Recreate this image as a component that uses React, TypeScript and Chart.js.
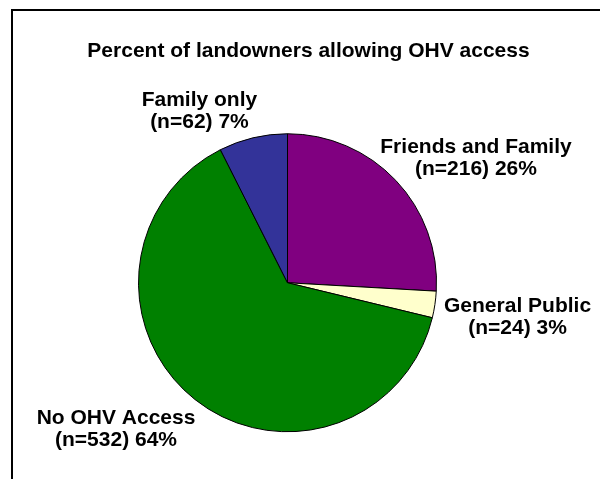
import React, { useEffect, useRef } from "react";
import { Chart, registerables } from "chart.js";

Chart.register(...registerables);

const TITLE = "Percent of landowners allowing OHV access";
const categories = ["Friends and Family", "General Public", "No OHV Access", "Family only"];
const counts = [216, 24, 532, 62];
const sliceColors = ["#800080", "#FFFFCC", "#008000", "#333399"];

const FONT = 'bold 21px "Liberation Sans", Arial, sans-serif';

const labelPlugin = {
  id: "sliceLabels",
  afterDraw(chart: any, _args: any, opts: any) {
    const ctx = chart.ctx;
    const meta = chart.getDatasetMeta(0);
    const data = chart.data.datasets[0].data as number[];
    const total = data.reduce((a, b) => a + b, 0);
    ctx.save();
    ctx.font = FONT;
    ctx.fillStyle = "#000";
    ctx.textAlign = "center";
    ctx.textBaseline = "alphabetic";
    meta.data.forEach((arc: any, i: number) => {
      const { x, y, outerRadius } = arc.getProps(["x", "y", "outerRadius"], true);
      const [dx, dy] = opts.offsets[i];
      const lx = x + dx * outerRadius;
      const ly = y + dy * outerRadius;
      ctx.fillText(String(chart.data.labels[i]), lx, ly);
      ctx.fillText(`(n=${data[i]}) ${Math.round((data[i] / total) * 100)}%`, lx, ly + opts.lineHeight);
    });
    ctx.fillText(opts.title, opts.titleX, opts.titleY);
    ctx.restore();
  },
};

export default function App() {
  const ref = useRef<HTMLCanvasElement | null>(null);

  useEffect(() => {
    if (!ref.current) return;
    const chart = new Chart(ref.current, {
      type: "pie",
      data: {
        labels: categories,
        datasets: [
          {
            data: counts,
            backgroundColor: sliceColors,
            borderColor: "#000000",
            borderWidth: 1,
          },
        ],
      },
      options: {
        responsive: false,
        maintainAspectRatio: false,
        animation: false,
        devicePixelRatio: 1,
        radius: 149,
        layout: { padding: { left: 100, right: 125, top: 120, bottom: 33.5 } },
        plugins: {
          legend: { display: false },
          tooltip: { enabled: false },
          title: { display: false },
          sliceLabels: {
            offsets: [
              [1.265, -0.869],
              [1.544, 0.198],
              [-1.151, 0.948],
              [-0.591, -1.186],
            ],
            lineHeight: 22,
            title: TITLE,
            titleX: 308.5,
            titleY: 57,
          },
        } as any,
      },
      plugins: [labelPlugin as any],
    });
    return () => chart.destroy();
  }, []);

  return (
    <div
      style={{
        position: "fixed",
        left: 0,
        top: 0,
        width: 600,
        height: 479,
        background: "#ffffff",
        overflow: "hidden",
      }}
    >
      <div
        style={{
          position: "absolute",
          left: 11,
          top: 9,
          width: 589,
          height: 470,
          borderTop: "2px solid #000",
          borderLeft: "2px solid #000",
          boxSizing: "border-box",
        }}
      />
      <canvas
        ref={ref}
        width={600}
        height={479}
        style={{ position: "absolute", left: 0, top: 0, width: 600, height: 479, display: "block" }}
      />
    </div>
  );
}
